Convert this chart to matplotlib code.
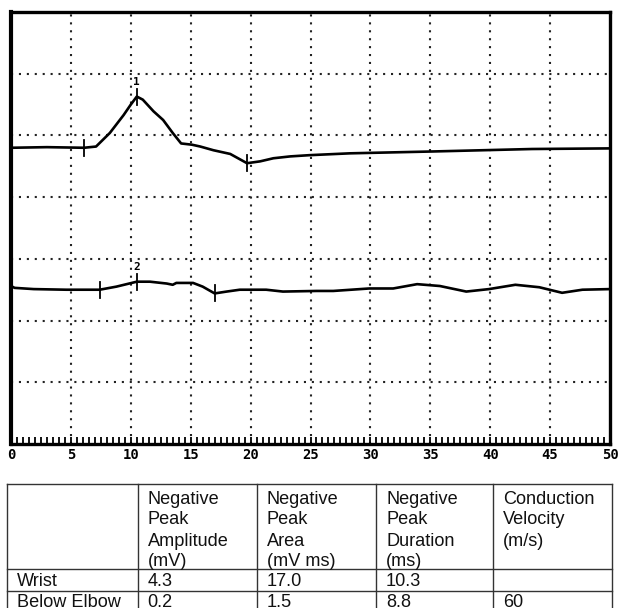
import numpy as np
import matplotlib
matplotlib.use("Agg")
import matplotlib.pyplot as plt

# ---- data ----
t1_ms = [0, 3, 6.1, 7.1, 8.25, 9.4, 10.0, 10.5, 11.0, 11.9, 12.7, 13.5, 14.2, 15.1, 15.8,
         16.9, 18.3, 19.7, 20.8, 21.9, 23.3, 24.9, 28.3, 35.2, 43.5, 50]
t1_v = [4.80, 4.81, 4.80, 4.82, 5.04, 5.33, 5.50, 5.63, 5.58, 5.39, 5.25, 5.04, 4.87, 4.85, 4.82,
        4.76, 4.70, 4.55, 4.58, 4.63, 4.66, 4.68, 4.71, 4.74, 4.78, 4.79]

t2_ms = [0, 0.3, 1.9, 4.6, 7.4, 8.8, 10.5, 11.6, 13.0, 13.5, 13.8, 15.2, 16.0, 17.0, 18.0,
         19.1, 21.3, 22.7, 25.5, 26.9, 29.9, 31.9, 33.9, 35.8, 38.0, 39.9, 42.1, 44.1,
         46.0, 47.7, 50]
t2_v = [2.56, 2.53, 2.51, 2.50, 2.50, 2.55, 2.63, 2.63, 2.60, 2.58, 2.61, 2.61, 2.55, 2.44,
        2.47, 2.50, 2.50, 2.47, 2.48, 2.48, 2.52, 2.52, 2.59, 2.56, 2.47, 2.51, 2.58, 2.54,
        2.45, 2.50, 2.51]

m1_ms = [6.1, 10.5, 19.7]
m2_ms = [7.4, 10.5, 17.0]
peak_labels = ["1", "2"]

x_ticks = [0, 5, 10, 15, 20, 25, 30, 35, 40, 45, 50]
x_ticklabels = ["0", "5", "10", "15", "20", "25", "30", "35", "40", "45", "50"]

col_headers = ["", "Negative\nPeak\nAmplitude\n(mV)", "Negative\nPeak\nArea\n(mV ms)",
               "Negative\nPeak\nDuration\n(ms)", "Conduction\nVelocity\n(m/s)"]
row_wrist = ["Wrist", "4.3", "17.0", "10.3", ""]
row_elbow = ["Below Elbow", "0.2", "1.5", "8.8", "60"]

# ---- figure ----
W, H = 619, 608
fig = plt.figure(figsize=(W / 100, H / 100), dpi=100)

def fx(px):
    return px / W

def fy(py):
    return 1 - py / H

ax = fig.add_axes([fx(11), fy(444), fx(610) - fx(11), fy(12) - fy(444)])
ax.set_xlim(0, 50)
ax.set_ylim(0, 7)

# dotted grid
for gx in x_ticks[1:-1]:
    ax.axvline(gx, color="#222222", lw=1.5, ls=(0, (1, 2.8)), zorder=1)
for gy in range(1, 7):
    ax.axhline(gy, color="#222222", lw=1.5, ls=(0, (1, 2.8)), zorder=1)

# traces
ax.plot(t1_ms, t1_v, color="black", lw=1.9, zorder=3, solid_joinstyle="round")
ax.plot(t2_ms, t2_v, color="black", lw=1.9, zorder=3, solid_joinstyle="round")

# markers
for ms_list, xs, ys, lab in [(m1_ms, t1_ms, t1_v, peak_labels[0]),
                             (m2_ms, t2_ms, t2_v, peak_labels[1])]:
    for i, m in enumerate(ms_list):
        yv = np.interp(m, xs, ys)
        ax.plot([m, m], [yv - 0.13, yv + 0.13], color="black", lw=1.3, zorder=4)
        if i == 1:
            ax.text(m, yv + 0.15, lab, ha="center", va="bottom", fontsize=8,
                    fontweight="bold", family="DejaVu Sans Mono", zorder=5)

# axes styling
for side in ["left", "top", "right", "bottom"]:
    ax.spines[side].set_linewidth(2.4)
    ax.spines[side].set_color("black")
ax.spines["left"].set_linewidth(3.0)
ax.set_yticks([])
ax.set_xticks(x_ticks)
ax.set_xticklabels(x_ticklabels, family="DejaVu Sans Mono", fontweight="bold", fontsize=10)
ax.set_xticks(np.arange(0, 50.01, 0.5), minor=True)
ax.tick_params(axis="x", which="major", direction="in", length=5, width=1.3, pad=3)
ax.tick_params(axis="x", which="minor", direction="in", length=5, width=1.3)

# ---- table ----
tax = fig.add_axes([0, 0, 1, 1])
tax.set_xlim(0, W)
tax.set_ylim(H, 0)
tax.axis("off")

col_x = [7, 137.7, 256.7, 376, 493.3, 612.3]
row_y = [484, 569, 590.5, 612]
lc = "#333333"
for xv in col_x:
    tax.plot([xv, xv], [row_y[0], row_y[-1]], color=lc, lw=1.0)
for yv in row_y:
    tax.plot([col_x[0], col_x[-1]], [yv, yv], color=lc, lw=1.0)

tfont = dict(family="Liberation Sans", fontsize=13.1, color="#111111")
for j, txt in enumerate(col_headers):
    for k, line in enumerate(txt.split("\n")):
        if line:
            tax.text(col_x[j] + 10, 503.5 + 21 * k, line, ha="left", va="baseline", **tfont)
for j, txt in enumerate(row_wrist):
    tax.text(col_x[j] + 10, 586.5, txt, ha="left", va="baseline", **tfont)
for j, txt in enumerate(row_elbow):
    tax.text(col_x[j] + 10, 607, txt, ha="left", va="baseline", **tfont)

fig.savefig("out.png", dpi=100)
